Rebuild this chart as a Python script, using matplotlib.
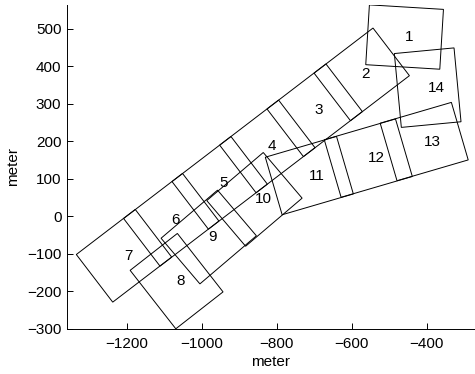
import matplotlib
matplotlib.use("Agg")
import matplotlib.pyplot as plt
from matplotlib.patches import Rectangle

# image footprints: id, centre (m), heading of the long side (deg)
ids = [1, 2, 3, 4, 5, 6, 7, 8, 9, 10, 11, 12, 13, 14]
cx = [-458.9, -573.3, -698.9, -825.3, -952.5, -1081.7, -1207.9,
      -1067.5, -981.7, -859.7, -713.2, -555.8, -406.6, -397.3]
cy = [478.5, 378.8, 283.0, 186.5, 89.3, -9.3, -105.4,
      -173.0, -55.3, 45.2, 108.7, 155.3, 199.5, 343.4]
heading = [-3.5, 37.4, 37.4, 37.4, 37.4, 37.4, 37.4,
           -52.0, 40.4, 40.4, 16.3, 16.3, 16.3, -84.6]
foot_len = 198.0
foot_wid = 160.0

xticks = [-1200, -1000, -800, -600, -400]
yticks = [-300, -200, -100, 0, 100, 200, 300, 400, 500]

plt.rcParams['font.family'] = ['Liberation Sans', 'DejaVu Sans']
plt.rcParams['font.size'] = 11

fig = plt.figure(figsize=(4.75, 3.74), dpi=100)
ax = fig.add_axes([67 / 475, 45.3 / 374, 408 / 475, 323.7 / 374])

for i, x, y, h in zip(ids, cx, cy, heading):
    ax.add_patch(Rectangle((x - foot_len / 2, y - foot_wid / 2), foot_len, foot_wid,
                           angle=h, rotation_point='center',
                           fill=False, edgecolor='black', linewidth=0.7))
    ax.text(x, y, str(i), ha='left', va='center', fontsize=11)

ax.set_xlim(-1360, -271)
ax.set_ylim(-300, 564)
ax.set_xticks(xticks)
ax.set_yticks(yticks)
ax.tick_params(axis='x', direction='in', length=4, width=0.7, pad=6, labelsize=11)
ax.tick_params(axis='y', direction='in', length=4, width=0.7, pad=4, labelsize=11)
ax.spines['top'].set_visible(False)
ax.spines['right'].set_visible(False)
ax.spines['left'].set_linewidth(0.7)
ax.spines['bottom'].set_linewidth(0.7)
ax.set_xlabel('meter', fontsize=11, labelpad=3)
ax.set_ylabel('meter', fontsize=11, labelpad=5)

fig.savefig('out.png', dpi=100)
